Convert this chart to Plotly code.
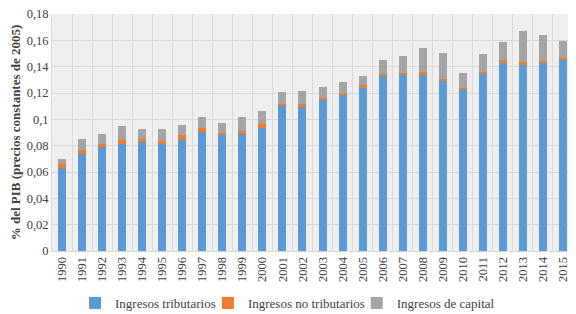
import plotly.graph_objects as go

years = [str(y) for y in range(1990, 2016)]
tributarios = [0.063, 0.074, 0.079, 0.081, 0.083, 0.081, 0.084, 0.0905, 0.088, 0.089,
               0.0935, 0.110, 0.110, 0.115, 0.119, 0.124, 0.133, 0.1343, 0.1335, 0.129,
               0.1223, 0.135, 0.143, 0.1415, 0.1428, 0.1455]
no_tributarios = [0.003, 0.0025, 0.002, 0.003, 0.002, 0.0025, 0.004, 0.003, 0.002, 0.0025,
                  0.003, 0.0018, 0.0015, 0.0012, 0.001, 0.0018, 0.0015, 0.0008, 0.0023, 0.0017,
                  0.0017, 0.0012, 0.002, 0.0018, 0.0015, 0.001]
capital = [0.004, 0.0085, 0.0075, 0.011, 0.008, 0.009, 0.008, 0.008, 0.0075, 0.0105,
           0.010, 0.009, 0.010, 0.0083, 0.008, 0.0072, 0.0105, 0.0133, 0.0187, 0.020,
           0.0115, 0.0135, 0.014, 0.0235, 0.020, 0.013]

ytick_vals = [0, 0.02, 0.04, 0.06, 0.08, 0.1, 0.12, 0.14, 0.16, 0.18]
ytick_text = ["0", "0,02", "0,04", "0,06", "0,08", "0,1", "0,12", "0,14", "0,16", "0,18"]

FONT = "Liberation Serif, Times New Roman, serif"

fig = go.Figure()
fig.add_trace(go.Bar(x=years, y=tributarios, name="Ingresos tributarios", legend="legend",
                     marker=dict(color="#5B9BD5", line=dict(width=0))))
fig.add_trace(go.Bar(x=years, y=no_tributarios, name="Ingresos no tributarios", legend="legend2",
                     marker=dict(color="#ED7D31", line=dict(width=0))))
fig.add_trace(go.Bar(x=years, y=capital, name="Ingresos de capital", legend="legend3",
                     marker=dict(color="#A5A5A5", line=dict(width=0))))


def leg(x):
    return dict(orientation="h", x=x, xanchor="left", xref="container",
                y=0.036, yref="container", yanchor="middle",
                bgcolor="rgba(0,0,0,0)",
                font=dict(family=FONT, size=13, color="#404040"),
                itemwidth=30)


# the page body has an 8px margin, so the figure is sized to fit the 576x314 window
fig.update_layout(
    barmode="stack",
    bargap=0.6,
    width=568, height=306,
    margin=dict(l=44, r=3, t=6, b=63, autoexpand=False),
    paper_bgcolor="white",
    plot_bgcolor="#efefef",
    font=dict(family=FONT, size=12, color="#404040"),
    showlegend=True,
    legend=leg(0.118),
    legend2=leg(0.352),
    legend3=leg(0.614),
    xaxis=dict(type="category", tickangle=-90, tickson="boundaries",
               showgrid=True, gridcolor="#d9d9d9", gridwidth=1,
               ticks="", showline=True, linecolor="#d9d9d9", automargin=False,
               tickfont=dict(family=FONT, size=12.5, color="#404040")),
    yaxis=dict(range=[0, 0.18], tickvals=ytick_vals, ticktext=ytick_text,
               showgrid=True, gridcolor="#d9d9d9", gridwidth=1,
               zeroline=False, showline=True, linecolor="#d9d9d9", automargin=False,
               ticklabeloverflow="allow",
               tickfont=dict(family=FONT, size=12.5, color="#404040"),
               title=dict(text="<b>% del PIB (precios constantes de 2005)</b>",
                          font=dict(family=FONT, size=13, color="#404040"),
                          standoff=4)),
)

fig.write_html("out.html")
